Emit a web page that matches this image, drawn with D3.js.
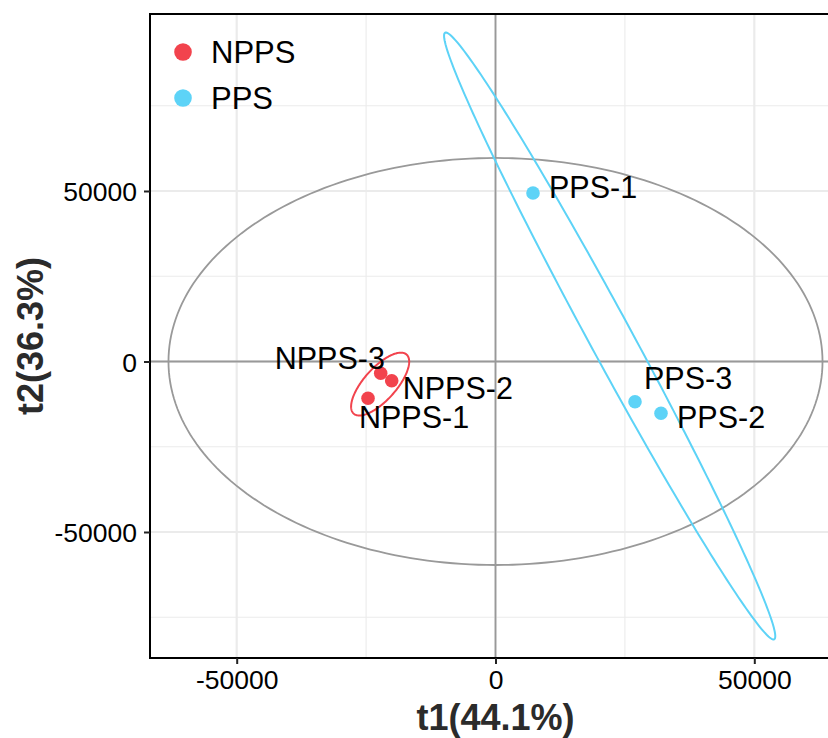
<!DOCTYPE html>
<html>
<head>
<meta charset="utf-8">
<script src="https://cdn.jsdelivr.net/npm/d3@7"></script>
<style>
  html, body { margin: 0; padding: 0; background: #fff; }
  svg { display: block; font-family: "Liberation Sans", Arial, sans-serif; }
</style>
</head>
<body>
<svg id="chart" width="828" height="738"></svg>
<script>
// ---------------- data ----------------
const sampleNames = ["NPPS-1", "NPPS-2", "NPPS-3", "PPS-1", "PPS-2", "PPS-3"];
const sampleGroups = ["NPPS", "NPPS", "NPPS", "PPS", "PPS", "PPS"];
const t1Scores = [-24630, -20050, -22180, 7245, 31975, 26950];
const t2Scores = [-10790, -5630, -3460, 49410, -15190, -11790];
const groups = ["NPPS", "PPS"];
const xTicks = [-50000, 0, 50000];
const yTicks = [-50000, 0, 50000];
const xMinorGrid = [-25000, 25000];
const yMinorGrid = [-75000, -25000, 25000, 75000];
const hotellingSemiAxes = [63180, 59680];   // T2 ellipse half-widths (t1, t2)
const xTitle = "t1(44.1%)";
const yTitle = "t2(36.3%)";

// ---------------- styles / layout ----------------
const colors = { NPPS: "#F2434D", PPS: "#5DD3F7" };
const labelNudge = { // pixel offsets of label text from point
  "NPPS-1": [-9, 30], "NPPS-2": [11, 18], "NPPS-3": [-106, -4],
  "PPS-1": [16, 5], "PPS-2": [16, 15], "PPS-3": [9, -13]
};
const P = { left: 150, top: 14, right: 841, bottom: 658 };

const svg = d3.select("#chart");
const x = d3.scaleLinear().domain([-66750, 66750]).range([P.left, P.right]);
const y = d3.scaleLinear().domain([-86950, 101900]).range([P.bottom, P.top]);

const panel = svg.append("g");
// grid
panel.selectAll("line.vminor").data(xMinorGrid).join("line")
  .attr("x1", d => x(d)).attr("x2", d => x(d)).attr("y1", P.top).attr("y2", P.bottom)
  .attr("stroke", "#EBEBEB").attr("stroke-width", 1.1);
panel.selectAll("line.hminor").data(yMinorGrid).join("line")
  .attr("y1", d => y(d)).attr("y2", d => y(d)).attr("x1", P.left).attr("x2", P.right)
  .attr("stroke", "#EBEBEB").attr("stroke-width", 1.1);
panel.selectAll("line.vmajor").data(xTicks).join("line")
  .attr("x1", d => x(d)).attr("x2", d => x(d)).attr("y1", P.top).attr("y2", P.bottom)
  .attr("stroke", "#EBEBEB").attr("stroke-width", 2.2);
panel.selectAll("line.hmajor").data(yTicks).join("line")
  .attr("y1", d => y(d)).attr("y2", d => y(d)).attr("x1", P.left).attr("x2", P.right)
  .attr("stroke", "#EBEBEB").attr("stroke-width", 2.2);

// zero lines
panel.append("line").attr("x1", x(0)).attr("x2", x(0)).attr("y1", P.top).attr("y2", P.bottom)
  .attr("stroke", "#999").attr("stroke-width", 1.8);
panel.append("line").attr("y1", y(0)).attr("y2", y(0)).attr("x1", P.left).attr("x2", P.right)
  .attr("stroke", "#999").attr("stroke-width", 1.8);

// Hotelling ellipse
const line = d3.line().x(d => x(d[0])).y(d => y(d[1]));
const N = 240;
const hot = d3.range(N + 1).map(i => {
  const a = 2 * Math.PI * i / N;
  return [hotellingSemiAxes[0] * Math.cos(a), hotellingSemiAxes[1] * Math.sin(a)];
});
panel.append("path").attr("d", line(hot)).attr("fill", "none")
  .attr("stroke", "#999").attr("stroke-width", 1.8);

// group confidence ellipses (95%, chi-square, 2 df)
const r95 = Math.sqrt(5.991);
groups.forEach(g => {
  const idx = sampleGroups.map((s, i) => s === g ? i : -1).filter(i => i >= 0);
  const xs = idx.map(i => t1Scores[i]), ys = idx.map(i => t2Scores[i]);
  const n = xs.length;
  const mx = d3.mean(xs), my = d3.mean(ys);
  let sxx = 0, syy = 0, sxy = 0;
  for (let k = 0; k < n; k++) {
    sxx += (xs[k] - mx) ** 2; syy += (ys[k] - my) ** 2; sxy += (xs[k] - mx) * (ys[k] - my);
  }
  sxx /= (n - 1); syy /= (n - 1); sxy /= (n - 1);
  const l11 = Math.sqrt(sxx), l21 = sxy / l11, l22 = Math.sqrt(syy - l21 * l21);
  const pts = d3.range(N + 1).map(i => {
    const a = 2 * Math.PI * i / N;
    const u = r95 * Math.cos(a), v = r95 * Math.sin(a);
    return [mx + l11 * u, my + l21 * u + l22 * v];
  });
  panel.append("path").attr("d", line(pts)).attr("fill", "none")
    .attr("stroke", colors[g]).attr("stroke-width", 2);
});

// points
const data = sampleNames.map((name, i) => ({ name, g: sampleGroups[i], t1: t1Scores[i], t2: t2Scores[i] }));
panel.selectAll("circle.pt").data(data).join("circle")
  .attr("cx", d => x(d.t1)).attr("cy", d => y(d.t2)).attr("r", 6.8)
  .attr("fill", d => colors[d.g]);

// labels
panel.selectAll("text.lbl").data(data).join("text")
  .attr("x", d => x(d.t1) + labelNudge[d.name][0])
  .attr("y", d => y(d.t2) + labelNudge[d.name][1])
  .attr("font-size", 30.5).attr("fill", "#000")
  .text(d => d.name);

// border
svg.append("rect").attr("x", P.left).attr("y", P.top)
  .attr("width", P.right - P.left).attr("height", P.bottom - P.top)
  .attr("fill", "none").attr("stroke", "#000").attr("stroke-width", 2);

// axes
const fmt = d => String(d);
const xAxis = svg.append("g").attr("transform", `translate(0,${P.bottom})`)
  .call(d3.axisBottom(x).tickValues(xTicks).tickSize(6).tickPadding(6).tickFormat(fmt));
const yAxis = svg.append("g").attr("transform", `translate(${P.left},0)`)
  .call(d3.axisLeft(y).tickValues(yTicks).tickSize(6).tickPadding(7).tickFormat(fmt));
[xAxis, yAxis].forEach(a => {
  a.select(".domain").remove();
  a.selectAll(".tick line").attr("stroke", "#222").attr("stroke-width", 2);
  a.selectAll(".tick text").attr("font-size", 26.5).attr("fill", "#000")
    .attr("font-family", "Liberation Sans, Arial, sans-serif");
});
yAxis.selectAll(".tick text").attr("dy", "0.36em");

// axis titles
svg.append("text").attr("x", (P.left + P.right) / 2).attr("y", 730)
  .attr("text-anchor", "middle").attr("font-size", 36).attr("font-weight", "bold")
  .attr("fill", "#2b2b2b").text(xTitle);
svg.append("text").attr("transform", `translate(43,${(P.top + P.bottom) / 2}) rotate(-90)`)
  .attr("text-anchor", "middle").attr("font-size", 36).attr("font-weight", "bold")
  .attr("fill", "#2b2b2b").text(yTitle);

// legend
const leg = svg.append("g");
groups.forEach((g, i) => {
  leg.append("circle").attr("cx", 183).attr("cy", 52 + i * 46).attr("r", 8.8).attr("fill", colors[g]);
  leg.append("text").attr("x", 211).attr("y", 52 + i * 46 + 11).attr("font-size", 31)
    .attr("fill", "#000").text(g);
});
</script>
</body>
</html>
